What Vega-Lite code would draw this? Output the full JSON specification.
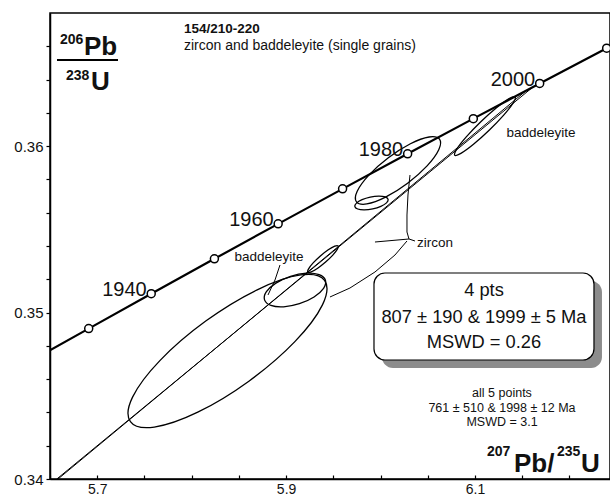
{
  "$schema": "https://vega.github.io/schema/vega-lite/v6.json",
  "autosize": {"type": "none"},
  "padding": {"left": 50, "top": 13, "right": 0, "bottom": 19},
  "width": 560,
  "height": 466,
  "background": "white",
  "config": {
    "view": {"stroke": "black", "strokeWidth": 1.5},
    "font": "Liberation Sans",
    "text": {"font": "Liberation Sans", "color": "#111"}
  },
  "datasets": {
    "concordia": [
      {"t": 1920, "x": 5.62540, "y": 0.346946, "label": null},
      {"t": 1930, "x": 5.69098, "y": 0.349037, "label": null},
      {"t": 1940, "x": 5.75719, "y": 0.351132, "label": "1940"},
      {"t": 1950, "x": 5.82409, "y": 0.353229, "label": null},
      {"t": 1960, "x": 5.89161, "y": 0.355330, "label": "1960"},
      {"t": 1970, "x": 5.95983, "y": 0.357434, "label": null},
      {"t": 1980, "x": 6.02871, "y": 0.359541, "label": "1980"},
      {"t": 1990, "x": 6.09827, "y": 0.361652, "label": null},
      {"t": 2000, "x": 6.16852, "y": 0.363766, "label": "2000"},
      {"t": 2010, "x": 6.23947, "y": 0.365883, "label": null},
      {"t": 2020, "x": 6.31115, "y": 0.368004, "label": null}
    ],
    "ellipses": [
      {"id": "E1", "i": 0, "x": 5.94075, "y": 0.351929},
      {"id": "E1", "i": 1, "x": 5.93849, "y": 0.350462},
      {"id": "E1", "i": 2, "x": 5.90929, "y": 0.348253},
      {"id": "E1", "i": 3, "x": 5.86098, "y": 0.345893},
      {"id": "E1", "i": 4, "x": 5.80649, "y": 0.344015},
      {"id": "E1", "i": 5, "x": 5.76045, "y": 0.343122},
      {"id": "E1", "i": 6, "x": 5.73515, "y": 0.343453},
      {"id": "E1", "i": 7, "x": 5.73742, "y": 0.344920},
      {"id": "E1", "i": 8, "x": 5.76661, "y": 0.347129},
      {"id": "E1", "i": 9, "x": 5.81492, "y": 0.349489},
      {"id": "E1", "i": 10, "x": 5.86941, "y": 0.351367},
      {"id": "E1", "i": 11, "x": 5.91546, "y": 0.352260},
      {"id": "E2", "i": 0, "x": 5.94165, "y": 0.351950},
      {"id": "E2", "i": 1, "x": 5.93969, "y": 0.351458},
      {"id": "E2", "i": 2, "x": 5.92962, "y": 0.350940},
      {"id": "E2", "i": 3, "x": 5.91413, "y": 0.350533},
      {"id": "E2", "i": 4, "x": 5.89739, "y": 0.350346},
      {"id": "E2", "i": 5, "x": 5.88387, "y": 0.350430},
      {"id": "E2", "i": 6, "x": 5.87719, "y": 0.350762},
      {"id": "E2", "i": 7, "x": 5.87916, "y": 0.351254},
      {"id": "E2", "i": 8, "x": 5.88923, "y": 0.351772},
      {"id": "E2", "i": 9, "x": 5.90471, "y": 0.352179},
      {"id": "E2", "i": 10, "x": 5.92145, "y": 0.352366},
      {"id": "E2", "i": 11, "x": 5.93497, "y": 0.352282},
      {"id": "E3", "i": 0, "x": 5.95508, "y": 0.354006},
      {"id": "E3", "i": 1, "x": 5.95432, "y": 0.353810},
      {"id": "E3", "i": 2, "x": 5.94948, "y": 0.353455},
      {"id": "E3", "i": 3, "x": 5.94184, "y": 0.353037},
      {"id": "E3", "i": 4, "x": 5.93347, "y": 0.352667},
      {"id": "E3", "i": 5, "x": 5.92659, "y": 0.352446},
      {"id": "E3", "i": 6, "x": 5.92306, "y": 0.352432},
      {"id": "E3", "i": 7, "x": 5.92382, "y": 0.352628},
      {"id": "E3", "i": 8, "x": 5.92866, "y": 0.352983},
      {"id": "E3", "i": 9, "x": 5.93630, "y": 0.353401},
      {"id": "E3", "i": 10, "x": 5.94467, "y": 0.353771},
      {"id": "E3", "i": 11, "x": 5.95155, "y": 0.353992},
      {"id": "E4", "i": 0, "x": 6.00804, "y": 0.356796},
      {"id": "E4", "i": 1, "x": 6.00634, "y": 0.356591},
      {"id": "E4", "i": 2, "x": 6.00038, "y": 0.356384},
      {"id": "E4", "i": 3, "x": 5.99175, "y": 0.356231},
      {"id": "E4", "i": 4, "x": 5.98277, "y": 0.356172},
      {"id": "E4", "i": 5, "x": 5.97584, "y": 0.356223},
      {"id": "E4", "i": 6, "x": 5.97282, "y": 0.356372},
      {"id": "E4", "i": 7, "x": 5.97452, "y": 0.356577},
      {"id": "E4", "i": 8, "x": 5.98048, "y": 0.356784},
      {"id": "E4", "i": 9, "x": 5.98911, "y": 0.356937},
      {"id": "E4", "i": 10, "x": 5.99809, "y": 0.356996},
      {"id": "E4", "i": 11, "x": 6.00502, "y": 0.356945},
      {"id": "E5", "i": 0, "x": 6.06247, "y": 0.360417},
      {"id": "E5", "i": 1, "x": 6.06167, "y": 0.359781},
      {"id": "E5", "i": 2, "x": 6.04931, "y": 0.358812},
      {"id": "E5", "i": 3, "x": 6.02869, "y": 0.357769},
      {"id": "E5", "i": 4, "x": 6.00533, "y": 0.356932},
      {"id": "E5", "i": 5, "x": 5.98551, "y": 0.356525},
      {"id": "E5", "i": 6, "x": 5.97452, "y": 0.356657},
      {"id": "E5", "i": 7, "x": 5.97531, "y": 0.357293},
      {"id": "E5", "i": 8, "x": 5.98767, "y": 0.358262},
      {"id": "E5", "i": 9, "x": 6.00829, "y": 0.359305},
      {"id": "E5", "i": 10, "x": 6.03165, "y": 0.360142},
      {"id": "E5", "i": 11, "x": 6.05147, "y": 0.360549},
      {"id": "E6", "i": 0, "x": 6.14260, "y": 0.362963},
      {"id": "E6", "i": 1, "x": 6.14052, "y": 0.362598},
      {"id": "E6", "i": 2, "x": 6.13043, "y": 0.361863},
      {"id": "E6", "i": 3, "x": 6.11502, "y": 0.360951},
      {"id": "E6", "i": 4, "x": 6.09844, "y": 0.360109},
      {"id": "E6", "i": 5, "x": 6.08511, "y": 0.359562},
      {"id": "E6", "i": 6, "x": 6.07862, "y": 0.359457},
      {"id": "E6", "i": 7, "x": 6.08070, "y": 0.359822},
      {"id": "E6", "i": 8, "x": 6.09079, "y": 0.360557},
      {"id": "E6", "i": 9, "x": 6.10620, "y": 0.361469},
      {"id": "E6", "i": 10, "x": 6.12278, "y": 0.362311},
      {"id": "E6", "i": 11, "x": 6.13611, "y": 0.362858}
    ],
    "lines": [
      {"id": "D1", "i": 0, "x": 5.65720, "y": 0.340000},
      {"id": "D1", "i": 1, "x": 6.16147, "y": 0.363555},
      {"id": "D2", "i": 0, "x": 5.65850, "y": 0.340000},
      {"id": "D2", "i": 1, "x": 6.15446, "y": 0.363344},
      {"id": "LZ1", "i": 0, "x": 6.03120, "y": 0.358266},
      {"id": "LZ1", "i": 1, "x": 6.02908, "y": 0.357064},
      {"id": "LZ1", "i": 2, "x": 6.02802, "y": 0.355863},
      {"id": "LZ1", "i": 3, "x": 6.02802, "y": 0.354841},
      {"id": "LZ1", "i": 4, "x": 6.03014, "y": 0.354421},
      {"id": "LZ2", "i": 0, "x": 5.99413, "y": 0.354240},
      {"id": "LZ2", "i": 1, "x": 6.03014, "y": 0.354421},
      {"id": "LZ2", "i": 2, "x": 6.03649, "y": 0.354300},
      {"id": "LZ3", "i": 0, "x": 6.02802, "y": 0.354300},
      {"id": "LZ3", "i": 1, "x": 6.01531, "y": 0.353459},
      {"id": "LZ3", "i": 2, "x": 5.99413, "y": 0.352438},
      {"id": "LZ3", "i": 3, "x": 5.96766, "y": 0.351476},
      {"id": "LZ3", "i": 4, "x": 5.94648, "y": 0.350936},
      {"id": "LB", "i": 0, "x": 5.89354, "y": 0.352858},
      {"id": "LB", "i": 1, "x": 5.88825, "y": 0.351957},
      {"id": "LB", "i": 2, "x": 5.88084, "y": 0.351056}
    ],
    "frac": [
      {"x": 5.65741, "x2": 5.72200, "y": 0.365176}
    ],
    "boxes": [
      {"k": "shadow", "x": 6.00155, "x2": 6.23450, "y": 0.351897, "y2": 0.346669},
      {"k": "box", "x": 5.99308, "x2": 6.22603, "y": 0.352378, "y2": 0.347150}
    ],
    "texts": [
      {"k": "title", "x": 5.79189, "y": 0.367039, "text": "154/210-220"},
      {"k": "sub", "x": 5.79189, "y": 0.366017, "text": "zircon and baddeleyite (single grains)"},
      {"k": "sup", "x": 5.66059, "y": 0.366167, "text": "206"},
      {"k": "big", "x": 5.68600, "y": 0.365476, "text": "Pb"},
      {"k": "sup", "x": 5.66694, "y": 0.363974, "text": "238"},
      {"k": "big", "x": 5.69341, "y": 0.363373, "text": "U"},
      {"k": "sup", "x": 6.11273, "y": 0.341382, "text": "207"},
      {"k": "big", "x": 6.14131, "y": 0.340391, "text": "Pb/"},
      {"k": "sup", "x": 6.18685, "y": 0.341382, "text": "235"},
      {"k": "big", "x": 6.21226, "y": 0.340391, "text": "U"},
      {"k": "box", "x": 6.10955, "y": 0.351296, "text": "4 pts"},
      {"k": "box", "x": 6.10955, "y": 0.349674, "text": "807 ± 190 & 1999 ± 5 Ma"},
      {"k": "box", "x": 6.10955, "y": 0.348172, "text": "MSWD = 0.26"},
      {"k": "small", "x": 6.12862, "y": 0.345168, "text": "all 5 points"},
      {"k": "small", "x": 6.12862, "y": 0.344266, "text": "761 ± 510 & 1998 ± 12 Ma"},
      {"k": "small", "x": 6.12862, "y": 0.343425, "text": "MSWD = 3.1"},
      {"k": "lab", "x": 5.88190, "y": 0.353339, "text": "baddeleyite"},
      {"k": "lab", "x": 6.16990, "y": 0.360790, "text": "baddeleyite"},
      {"k": "labl", "x": 6.03861, "y": 0.354210, "text": "zircon"}
    ]
  },
  "encoding": {
    "x": {
      "field": "x", "type": "quantitative",
      "scale": {"domain": [5.65, 6.243], "zero": false, "nice": false},
      "axis": {
        "title": null, "grid": false,
        "values": [5.65, 5.7, 5.75, 5.8, 5.85, 5.9, 5.95, 6, 6.05, 6.1, 6.15, 6.2],
        "labelExpr": "abs(datum.value*10-round(datum.value*10))<0.001 && round(datum.value*10)%2==1 ? format(datum.value,'.1f') : ''",
        "tickSize": -4, "tickWidth": 1.2, "tickColor": "black",
        "domainColor": "black", "domainWidth": 1.5,
        "labelFont": "Liberation Sans", "labelFontSize": 14, "labelColor": "#111",
        "labelPadding": 7, "labelFlush": false, "labelOverlap": false
      }
    },
    "y": {
      "field": "y", "type": "quantitative",
      "scale": {"domain": [0.34, 0.368], "zero": false, "nice": false},
      "axis": {
        "title": null, "grid": false,
        "values": [0.34, 0.342, 0.344, 0.346, 0.348, 0.35, 0.352, 0.354, 0.356, 0.358, 0.36, 0.362, 0.364, 0.366],
        "labelExpr": "abs(datum.value*100-round(datum.value*100))<0.001 ? format(datum.value,'.2f') : ''",
        "tickSize": 4, "tickWidth": 1.2, "tickColor": "black",
        "domainColor": "black", "domainWidth": 1.5,
        "labelFont": "Liberation Sans", "labelFontSize": 15, "labelColor": "#111",
        "labelPadding": 3, "labelFlush": false, "labelOverlap": false
      }
    }
  },
  "layer": [
    {
      "data": {"name": "ellipses"},
      "mark": {"type": "line", "interpolate": "cardinal-closed", "stroke": "black", "strokeWidth": 1.3, "clip": true},
      "encoding": {"detail": {"field": "id"}, "order": {"field": "i", "type": "quantitative"}}
    },
    {
      "data": {"name": "lines"},
      "mark": {"type": "line", "stroke": "black", "strokeWidth": 1, "clip": true},
      "encoding": {"detail": {"field": "id"}, "order": {"field": "i", "type": "quantitative"}}
    },
    {
      "data": {"name": "concordia"},
      "mark": {"type": "line", "stroke": "black", "strokeWidth": 2.2, "clip": true},
      "encoding": {"order": {"field": "t", "type": "quantitative"}}
    },
    {
      "data": {"name": "concordia"},
      "transform": [{"filter": "datum.t >= 1930 && datum.t <= 2010"}],
      "mark": {"type": "point", "shape": "circle", "filled": true, "fill": "white", "stroke": "black", "strokeWidth": 1.5, "size": 64, "opacity": 1},
      "encoding": {}
    },
    {
      "data": {"name": "concordia"},
      "transform": [{"filter": "datum.label != null"}],
      "mark": {"type": "text", "align": "right", "baseline": "alphabetic", "dx": -4.5, "dy": 2.5, "fontSize": 20, "font": "Liberation Sans"},
      "encoding": {"text": {"field": "label"}}
    },
    {
      "data": {"name": "frac"},
      "mark": {"type": "rule", "stroke": "black", "strokeWidth": 2},
      "encoding": {"x2": {"field": "x2"}}
    },
    {
      "data": {"name": "boxes"},
      "transform": [{"filter": "datum.k == 'shadow'"}],
      "mark": {"type": "rect", "fill": "#8c8c8c", "cornerRadius": 11},
      "encoding": {"x2": {"field": "x2"}, "y2": {"field": "y2"}}
    },
    {
      "data": {"name": "boxes"},
      "transform": [{"filter": "datum.k == 'box'"}],
      "mark": {"type": "rect", "fill": "white", "stroke": "black", "strokeWidth": 1.2, "cornerRadius": 11},
      "encoding": {"x2": {"field": "x2"}, "y2": {"field": "y2"}}
    },
    {
      "data": {"name": "texts"},
      "transform": [{"filter": "datum.k == 'title'"}],
      "mark": {"type": "text", "align": "left", "baseline": "middle", "fontSize": 13.5, "fontWeight": "bold"},
      "encoding": {"text": {"field": "text"}}
    },
    {
      "data": {"name": "texts"},
      "transform": [{"filter": "datum.k == 'sub'"}],
      "mark": {"type": "text", "align": "left", "baseline": "middle", "fontSize": 14},
      "encoding": {"text": {"field": "text"}}
    },
    {
      "data": {"name": "texts"},
      "transform": [{"filter": "datum.k == 'sup'"}],
      "mark": {"type": "text", "align": "left", "baseline": "alphabetic", "fontSize": 14, "fontWeight": "bold"},
      "encoding": {"text": {"field": "text"}}
    },
    {
      "data": {"name": "texts"},
      "transform": [{"filter": "datum.k == 'big'"}],
      "mark": {"type": "text", "align": "left", "baseline": "alphabetic", "fontSize": 26, "fontWeight": "bold"},
      "encoding": {"text": {"field": "text"}}
    },
    {
      "data": {"name": "texts"},
      "transform": [{"filter": "datum.k == 'box'"}],
      "mark": {"type": "text", "align": "center", "baseline": "middle", "fontSize": 18.3},
      "encoding": {"text": {"field": "text"}}
    },
    {
      "data": {"name": "texts"},
      "transform": [{"filter": "datum.k == 'small'"}],
      "mark": {"type": "text", "align": "center", "baseline": "middle", "fontSize": 12.5},
      "encoding": {"text": {"field": "text"}}
    },
    {
      "data": {"name": "texts"},
      "transform": [{"filter": "datum.k == 'lab'"}],
      "mark": {"type": "text", "align": "center", "baseline": "middle", "fontSize": 13.5},
      "encoding": {"text": {"field": "text"}}
    },
    {
      "data": {"name": "texts"},
      "transform": [{"filter": "datum.k == 'labl'"}],
      "mark": {"type": "text", "align": "left", "baseline": "middle", "fontSize": 13.5},
      "encoding": {"text": {"field": "text"}}
    }
  ]
}
